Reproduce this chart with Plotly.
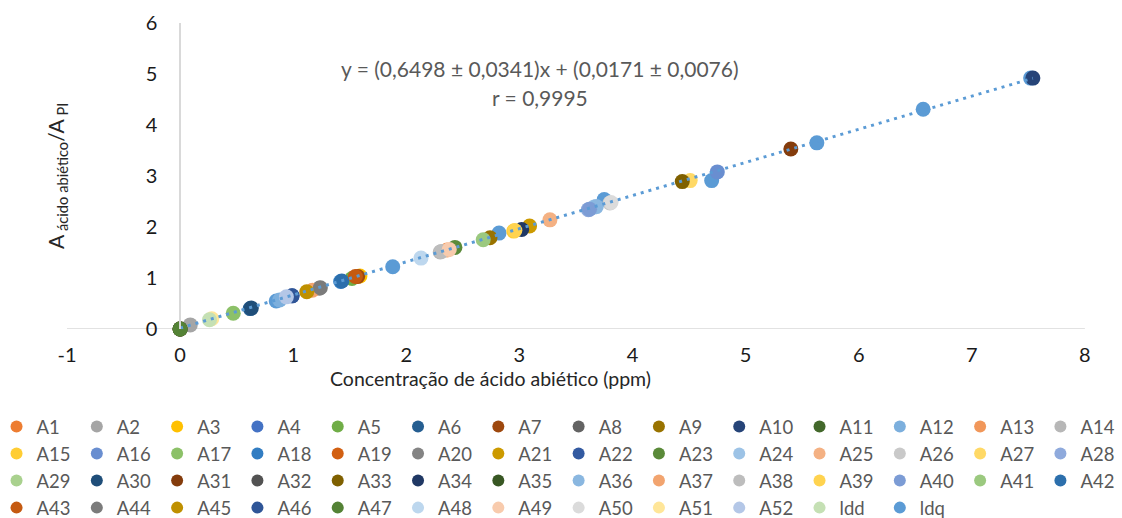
import plotly.graph_objects as go

# ---------------- data ----------------
series_names = [f"A{i}" for i in range(1, 53)] + ["ldd", "ldq"]

series_colors = [
    "#ED7D31", "#A5A5A5", "#FFC000", "#4472C4", "#70AD47", "#255E91", "#9E480E",
    "#636363", "#997300", "#264478", "#43682B", "#7CAFDD", "#F1975A", "#B7B7B7",
    "#FFCD33", "#698ED0", "#8CC168", "#327DC2", "#D26012", "#848484", "#CC9A00",
    "#335AA1", "#5A8A39", "#9DC3E6", "#F4B183", "#C9C9C9", "#FFD966", "#8FAADC",
    "#A9D18E", "#1F4E79", "#843C0C", "#525252", "#7F6000", "#203864", "#385723",
    "#8AB7E0", "#F2A46F", "#BDBDBD", "#FFD34F", "#7C9CD5", "#9BC97F", "#2C6FAC",
    "#C55A11", "#7B7B7B", "#BF9000", "#2F5597", "#548235", "#BDD7EE", "#F8CBAD",
    "#DBDBDB", "#FFE699", "#B4C7E7", "#C5E0B4", "#5B9BD5",
]

# concentration (ppm) per series
series_x = [
    [0.00], [0.09], [1.59], [0.00], [1.52], [0.62], [1.57],
    [0.00], [2.74], [7.54], [0.00], [0.88], [2.36], [2.30],
    [2.95], [4.75], [0.47], [1.42], [0.00], [1.23], [3.09],
    [0.99], [2.43], [3.66], [3.27], [3.80], [4.51], [3.61],
    [0.00], [0.63], [5.40], [0.00], [4.44], [3.02], [0.00],
    [3.68], [1.17], [2.31], [2.96], [3.62], [2.68], [1.43],
    [1.55], [1.24], [1.12], [0.99], [0.00], [2.13], [2.38],
    [3.81], [0.28], [0.94], [0.26],
    [0.85, 1.88, 2.82, 3.75, 4.70, 5.63, 6.57, 7.52],
]

# area ratio A(abietic acid)/A(PI) per series
series_y = [
    [0.00], [0.08], [1.04], [0.00], [0.99], [0.40], [1.03],
    [0.00], [1.79], [4.92], [0.00], [0.57], [1.55], [1.51],
    [1.92], [3.08], [0.31], [0.93], [0.00], [0.80], [2.02],
    [0.65], [1.60], [2.39], [2.14], [2.47], [2.91], [2.34],
    [0.00], [0.41], [3.53], [0.00], [2.89], [1.95], [0.00],
    [2.40], [0.76], [1.52], [1.93], [2.35], [1.75], [0.94],
    [1.03], [0.81], [0.73], [0.65], [0.00], [1.39], [1.56],
    [2.48], [0.20], [0.63], [0.18],
    [0.55, 1.22, 1.88, 2.54, 2.91, 3.65, 4.31, 4.92],
]

fit_slope = 0.6498
fit_intercept = 0.0171
fit_x_range = [0.0, 7.54]

x_ticks = [-1, 0, 1, 2, 3, 4, 5, 6, 7, 8]
x_tick_labels = ["-1", "0", "1", "2", "3", "4", "5", "6", "7", "8"]
y_ticks = [0, 1, 2, 3, 4, 5, 6]

eq_line1 = "y = (0,6498 ± 0,0341)x + (0,0171 ± 0,0076)"
eq_line2 = "r = 0,9995"
x_title = "Concentração de ácido abiético (ppm)"
y_title = "A<sub> ácido abiético</sub>/A<sub> PI</sub>"

# ---------------- layout geometry ----------------
W, H = 1122, 518
ML, MR, MT, MB = 67, 0, 23, 189
px_per_unit = 113.1
plot_w = W - ML - MR
plot_h = H - MT - MB
x_min = -1.0
x_max = x_min + plot_w / px_per_unit

FONT = "Lato"


def px_x(p):
    return (p - ML) / plot_w


def px_y(p):
    return 1 - (p - MT) / plot_h


fig = go.Figure()

# ldq drawn first (bottom), legend order kept by legendrank
order = [len(series_names) - 1] + list(range(len(series_names) - 1))
for i in order:
    fig.add_trace(go.Scatter(
        x=series_x[i], y=series_y[i], mode="markers", name=series_names[i],
        marker=dict(size=15, color=series_colors[i], line=dict(width=0)),
        legendrank=i + 1, cliponaxis=False,
    ))

# trend line
fx = fit_x_range
fy = [fit_slope * v + fit_intercept for v in fx]
fig.add_trace(go.Scatter(
    x=fx, y=fy, mode="lines", showlegend=False, hoverinfo="skip",
    line=dict(color="#5B9BD5", width=3, dash="3px,5px"), cliponaxis=False,
))

# x axis line (from -1 to 8 only)
fig.add_shape(type="line", xref="x", yref="y", x0=x_ticks[0], x1=x_ticks[-1], y0=0, y1=0,
              line=dict(color="#D9D9D9", width=1.5), layer="below")

fig.update_layout(
    width=W, height=H,
    margin=dict(l=ML, r=MR, t=MT, b=MB, autoexpand=False),
    paper_bgcolor="white", plot_bgcolor="white",
    font=dict(family=FONT, color="#000000"),
    xaxis=dict(range=[x_min, x_max], tickvals=x_ticks, ticktext=x_tick_labels,
               showgrid=False, zeroline=False,
               showline=False, ticks="", tickfont=dict(size=20, color="#1a1a1a", family=FONT),
               ticklabelstandoff=12),
    yaxis=dict(range=[0, 6], tickvals=y_ticks, showgrid=False, zeroline=False,
               showline=True, linecolor="#D9D9D9", linewidth=1.5,
               anchor="free", position=(0 - x_min) / (x_max - x_min),
               ticks="", tickfont=dict(size=20, color="#1a1a1a", family=FONT),
               ticklabelstandoff=18),
    legend=dict(orientation="h", x=-0.0668, xanchor="left", y=-0.258, yanchor="top",
                font=dict(size=18.5, color="#595959", family=FONT),
                entrywidth=35.3, entrywidthmode="pixels", itemsizing="constant",
                bgcolor="rgba(0,0,0,0)", borderwidth=0),
    showlegend=True,
    annotations=[
        dict(text=eq_line1, xref="paper", yref="paper", x=px_x(540), y=px_y(68),
             showarrow=False, font=dict(size=21, color="#595959", family=FONT),
             xanchor="center", yanchor="middle"),
        dict(text=eq_line2, xref="paper", yref="paper", x=px_x(540), y=px_y(97),
             showarrow=False, font=dict(size=21, color="#595959", family=FONT),
             xanchor="center", yanchor="middle"),
        dict(text=x_title, xref="paper", yref="paper", x=px_x(490), y=px_y(378),
             showarrow=False, font=dict(size=19.5, color="#262626", family=FONT),
             xanchor="center", yanchor="middle"),
        dict(text=y_title, xref="paper", yref="paper", x=px_x(57), y=px_y(176),
             showarrow=False, textangle=-90,
             font=dict(size=21, color="#262626", family=FONT),
             xanchor="center", yanchor="middle"),
    ],
)

fig.write_html("out.html", config={"displayModeBar": False},
               post_script="document.body.style.margin='0';")
